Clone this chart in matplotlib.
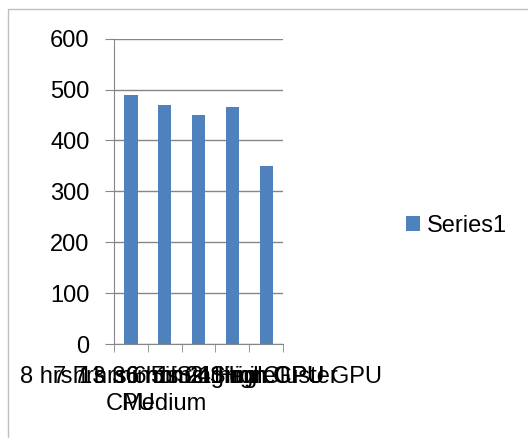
import matplotlib.pyplot as plt
import numpy as np
from matplotlib.patches import Rectangle

# data
categories = ["8 hrs 13 min 1 Single\nCPU", "7 hrs 36 min 2 Single\nMedium",
              "7 hrs 6 min 4 High GPU", "6 hrs 21 min Cluster",
              "5 hrs 1 min CPU GPU"]
values = [490, 470, 450, 465, 350]
series_name = "Series1"

plt.rcParams['font.family'] = ['Liberation Sans', 'DejaVu Sans']

fig = plt.figure(figsize=(5.28, 4.38), dpi=100)
ax = fig.add_axes([0.216, 0.2146, 0.320, 0.697])

x = np.arange(len(values))
ax.bar(x, values, width=0.39, color='#4F81BD', label=series_name, zorder=3)

ax.set_xlim(-0.5, len(values) - 0.5)
ax.set_ylim(0, 600)
ax.set_yticks(np.arange(0, 601, 100))
ax.grid(axis='y', color='#868686', linewidth=1, zorder=0)

for s in ['top', 'right']:
    ax.spines[s].set_visible(False)
for s in ['left', 'bottom']:
    ax.spines[s].set_color('#868686')

ax.tick_params(axis='y', length=6.5, color='#868686', labelsize=17, pad=11)
ax.set_xticks(x)
ax.set_xticklabels(categories, fontsize=17, linespacing=1.3)
ax.tick_params(axis='x', length=0, pad=16)
ax.set_xticks(np.arange(-0.5, len(values), 1), minor=True)
ax.tick_params(axis='x', which='minor', length=6, color='#868686')

fig.legend(loc='center left', bbox_to_anchor=(0.728, 0.484), frameon=False,
           fontsize=17, handlelength=0.6, handleheight=0.6, handletextpad=0.3)

# chart area border
fig.add_artist(Rectangle((8 / 528, -0.1), 1.1, 1.079, transform=fig.transFigure,
                         fill=False, edgecolor='#BFBFBF', linewidth=1))

fig.savefig('out.png', dpi=100)
